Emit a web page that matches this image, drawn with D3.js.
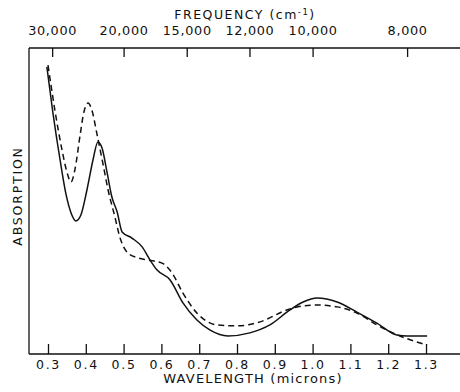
<!DOCTYPE html>
<html><head><meta charset="utf-8">
<script src="https://cdn.jsdelivr.net/npm/d3@7"></script>
<style>body{margin:0;background:#fff}svg{display:block}</style>
</head><body>
<script>
// wavelength (microns) ticks
const wlTicks = [0.3,0.4,0.5,0.6,0.7,0.8,0.9,1.0,1.1,1.2,1.3];
// frequency tick labels and where they sit on the wavelength axis (as drawn)
const freqLabels = ["30,000","20,000","15,000","12,000","10,000","8,000"];
const freqTickAt = [0.311,0.5,0.667,0.833,1.0,1.25];

// solid curve
const solidWl = [0.297,0.313,0.332,0.348,0.361,0.374,0.387,0.403,0.419,0.432,0.443,0.456,0.469,0.483,0.496,0.522,0.549,0.570,0.588,0.623,0.657,0.694,0.729,0.776,0.834,0.887,0.940,0.975,1.012,1.065,1.117,1.170,1.223,1.25,1.303];
const solidAbs = [93.8,78.8,63.4,52.0,46.1,43.5,45.4,53.6,63.4,69.3,67.3,59.5,51.3,46.4,39.9,37.9,35.0,30.7,27.5,24.2,16.7,11.1,7.8,5.9,6.9,9.5,14.4,17.0,18.3,17.0,13.7,10.1,6.2,5.9,5.9];
// dashed curve
const dashWl = [0.300,0.319,0.337,0.350,0.361,0.371,0.385,0.395,0.406,0.416,0.430,0.446,0.459,0.477,0.490,0.509,0.538,0.565,0.602,0.628,0.657,0.694,0.747,0.800,0.861,0.932,0.975,1.012,1.065,1.117,1.170,1.231,1.303];
const dashAbs = [94.4,79.1,66.7,59.5,56.2,60.1,71.6,79.1,82.0,79.7,71.6,61.8,53.6,44.8,38.2,33.3,31.4,30.7,29.7,26.5,19.9,13.4,9.5,9.2,10.5,14.4,15.7,16.0,15.4,13.4,9.5,5.9,2.9];

const W = 460, H = 392;
const svg = d3.select("body").append("svg").attr("width", W).attr("height", H);
const x = d3.scaleLinear().domain([0.3, 1.3]).range([48, 426]);
const y = d3.scaleLinear().domain([0, 100]).range([354, 48]);
const font = "DejaVu Sans, Liberation Sans, sans-serif";
const ink = "#111";

// frame lines
svg.append("line").attr("x1",29).attr("x2",460).attr("y1",48).attr("y2",48).attr("stroke",ink).attr("stroke-width",1.3);
svg.append("line").attr("x1",29).attr("x2",460).attr("y1",354).attr("y2",354).attr("stroke",ink).attr("stroke-width",1.3);
svg.append("line").attr("x1",29).attr("x2",29).attr("y1",48).attr("y2",354).attr("stroke",ink).attr("stroke-width",1.3);

// bottom axis (ticks inward)
const bottomAxis = d3.axisBottom(x).tickValues(wlTicks).tickSize(-10).tickPadding(8)
  .tickFormat(d => d3.format(".1f")(d));
const gb = svg.append("g").attr("transform","translate(0,354)").call(bottomAxis);
gb.select(".domain").remove();
gb.selectAll(".tick line").attr("stroke",ink).attr("stroke-width",1.3);
gb.selectAll(".tick text").attr("font-family",font).attr("font-size",12.5).attr("letter-spacing",1.7).attr("fill",ink).attr("y",6.5).attr("dy","0.71em");

// top axis (ticks inward)
const topAxis = d3.axisTop(x).tickValues(freqTickAt).tickSize(-9).tickPadding(13)
  .tickFormat((d,i) => freqLabels[i]);
const gt = svg.append("g").attr("transform","translate(0,48)").call(topAxis);
gt.select(".domain").remove();
gt.selectAll(".tick line").attr("stroke",ink).attr("stroke-width",1.3);
gt.selectAll(".tick text").attr("font-family",font).attr("font-size",12.8).attr("letter-spacing",0.7).attr("fill",ink).attr("y",-13);

// titles
const tTop = svg.append("text").attr("x",245).attr("y",19).attr("text-anchor","middle")
  .attr("font-family",font).attr("font-size",12.5).attr("letter-spacing",1.5).attr("fill",ink);
tTop.append("tspan").text("FREQUENCY (cm");
tTop.append("tspan").attr("font-size",8.5).attr("dy",-4).text("-1");
tTop.append("tspan").attr("dy",4).text(")");

svg.append("text").attr("x",253).attr("y",383).attr("text-anchor","middle")
  .attr("font-family",font).attr("font-size",13).attr("letter-spacing",1.2).attr("fill",ink)
  .text("WAVELENGTH (microns)");

svg.append("text").attr("transform","translate(22,196) rotate(-90)").attr("text-anchor","middle")
  .attr("font-family",font).attr("font-size",12.5).attr("letter-spacing",1.8).attr("fill",ink)
  .text("ABSORPTION");

// curves
const lineGen = d3.line().x(d => x(d[0])).y(d => y(d[1])).curve(d3.curveMonotoneX);
const solid = solidWl.map((w,i) => [w, solidAbs[i]]);
const dashed = dashWl.map((w,i) => [w, dashAbs[i]]);
svg.append("path").attr("d", lineGen(solid))
  .attr("fill","none").attr("stroke",ink).attr("stroke-width",1.5);
svg.append("path").attr("d", lineGen(dashed))
  .attr("fill","none").attr("stroke",ink).attr("stroke-width",1.5).attr("stroke-dasharray","6,4");
</script>
</body></html>
